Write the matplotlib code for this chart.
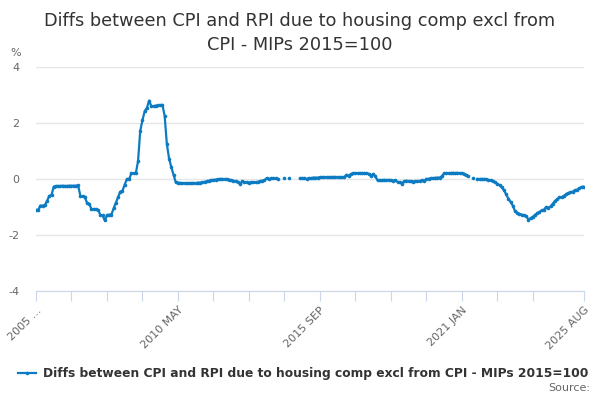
import numpy as np
import matplotlib.pyplot as plt

nan = np.nan

# monthly values, 2005 JAN .. 2025 AUG (248 months)
vals_2005_2009 = [
    -1.10, -1.10, -0.95, -0.95, -0.93, -0.78, -0.60, -0.57, -0.27, -0.25,
    -0.25, -0.25, -0.24, -0.25, -0.25, -0.24, -0.24, -0.24, -0.24, -0.23,
    -0.60, -0.62, -0.65, -0.85, -0.88, -1.08, -1.07, -1.08, -1.10, -1.28,
    -1.30, -1.48, -1.30, -1.27, -1.27, -1.05, -0.85, -0.65, -0.45, -0.42,
    -0.20, 0.00, 0.00, 0.20, 0.20, 0.20, 0.63, 1.72, 2.10, 2.42,
    2.54, 2.80, 2.60, 2.60, 2.62, 2.63, 2.63, 2.65, 2.26, 1.25,
    0.73, 0.43, 0.15, -0.12,
]
vals_2010_2014 = [
    -0.13, -0.14, -0.15, -0.15, -0.16, -0.15, -0.15, -0.14, -0.15, -0.13,
    -0.13, -0.12, -0.10, -0.08, -0.06, -0.04, -0.03, -0.02, -0.01, 0.00,
    0.00, -0.01, 0.00, -0.02, -0.04, -0.06, -0.08, -0.10, -0.18, -0.08,
    -0.12, -0.12, -0.13, -0.12, -0.12, -0.12, -0.10, -0.08, -0.06, -0.05,
    0.03, 0.00, 0.02, 0.02, 0.02, 0.01, nan, nan, 0.05, nan,
    0.04, nan, nan, nan, nan,
]
vals_2015_2021 = [
    0.02, 0.02, 0.02, 0.01, 0.02, 0.02, 0.05, 0.05, 0.05, 0.06,
    0.06, 0.06, 0.07, 0.06, 0.07, 0.07, 0.07, 0.07, 0.06, 0.07,
    0.06, 0.15, 0.12, 0.18, 0.20, 0.21, 0.21, 0.21, 0.20, 0.20,
    0.21, 0.19, 0.12, 0.18, 0.10, -0.05, -0.04, -0.04, -0.03, -0.04,
    -0.03, -0.04, -0.06, -0.05, -0.10, -0.12, -0.17, -0.08, -0.06, -0.08,
    -0.08, -0.09, -0.08, -0.08, -0.07, -0.05, -0.08, 0.00, 0.01, 0.02,
    0.03, 0.04, 0.05, 0.05, 0.10, 0.20, 0.21, 0.21, 0.21, 0.22,
    0.21, 0.22, 0.21, 0.20, 0.19, 0.15, 0.10, nan, 0.03, nan,
]
vals_2021_2025 = [
    0.00, 0.00, 0.00, 0.00, -0.01, -0.03, -0.05, -0.08, -0.12, -0.17,
    -0.22, -0.30, -0.40, -0.55, -0.70, -0.82, -0.95, -1.15, -1.20, -1.25,
    -1.27, -1.30, -1.32, -1.45, -1.40, -1.35, -1.28, -1.22, -1.18, -1.12,
    -1.10, -1.00, -1.03, -0.98, -0.88, -0.78, -0.72, -0.65, -0.65, -0.60,
    -0.55, -0.50, -0.48, -0.45, -0.40, -0.38, -0.33, -0.28, -0.27,
]
values = np.array(vals_2005_2009 + vals_2010_2014 + vals_2015_2021 + vals_2021_2025)

tick_months = [0, 16, 32, 48, 64, 80, 96, 112, 128, 144, 160, 176, 192, 208, 224, 247]
tick_labels = ['2005 ...', '', '', '', '2010 MAY', '', '', '', '2015 SEP',
               '', '', '', '2021 JAN', '', '', '2025 AUG']
yticks = [-4, -2, 0, 2, 4]

title = 'Diffs between CPI and RPI due to housing comp excl from\nCPI - MIPs 2015=100'
series_name = 'Diffs between CPI and RPI due to housing comp excl from CPI - MIPs 2015=100'

blue = '#0c7bc2'

fig = plt.figure(figsize=(6, 4), dpi=100)
ax = fig.add_axes([0.06, 0.2725, 0.913, 0.56])

x = np.arange(len(values))
line, = ax.plot(x, values, color=blue, lw=1.6, marker='o', ms=2.6, mew=0, zorder=3)

ax.set_xlim(0, 247)
ax.set_ylim(-4, 4)
ax.set_yticks(yticks)
ax.set_yticklabels([str(v) for v in yticks])
ax.grid(axis='y', color='#e6e6e6', lw=1)
ax.set_axisbelow(True)
for s in ['top', 'right', 'left']:
    ax.spines[s].set_visible(False)
ax.spines['bottom'].set_color('#ccd6eb')
ax.tick_params(axis='y', length=0, labelsize=8, labelcolor='#666666', pad=12)
ax.set_xticks(tick_months)
ax.set_xticklabels(tick_labels, rotation=45, ha='right', rotation_mode='anchor')
ax.tick_params(axis='x', length=7, color='#ccd6eb', labelsize=8,
               labelcolor='#666666', pad=3)

fig.text(0.5, 0.97, title, ha='center', va='top', fontsize=12.8,
         color='#333333', linespacing=1.4)
fig.text(0.017, 0.86, '%', fontsize=8, color='#666666')

fig.legend([line], [series_name], loc='center', bbox_to_anchor=(0.505, 0.065),
           frameon=False, prop={'weight': 'bold', 'size': 8.8},
           handlelength=1.5, handletextpad=0.5, labelcolor='#333333')
fig.text(0.983, 0.018, 'Source:', ha='right', va='bottom', fontsize=8, color='#666666')

fig.savefig('out.png', dpi=100)
